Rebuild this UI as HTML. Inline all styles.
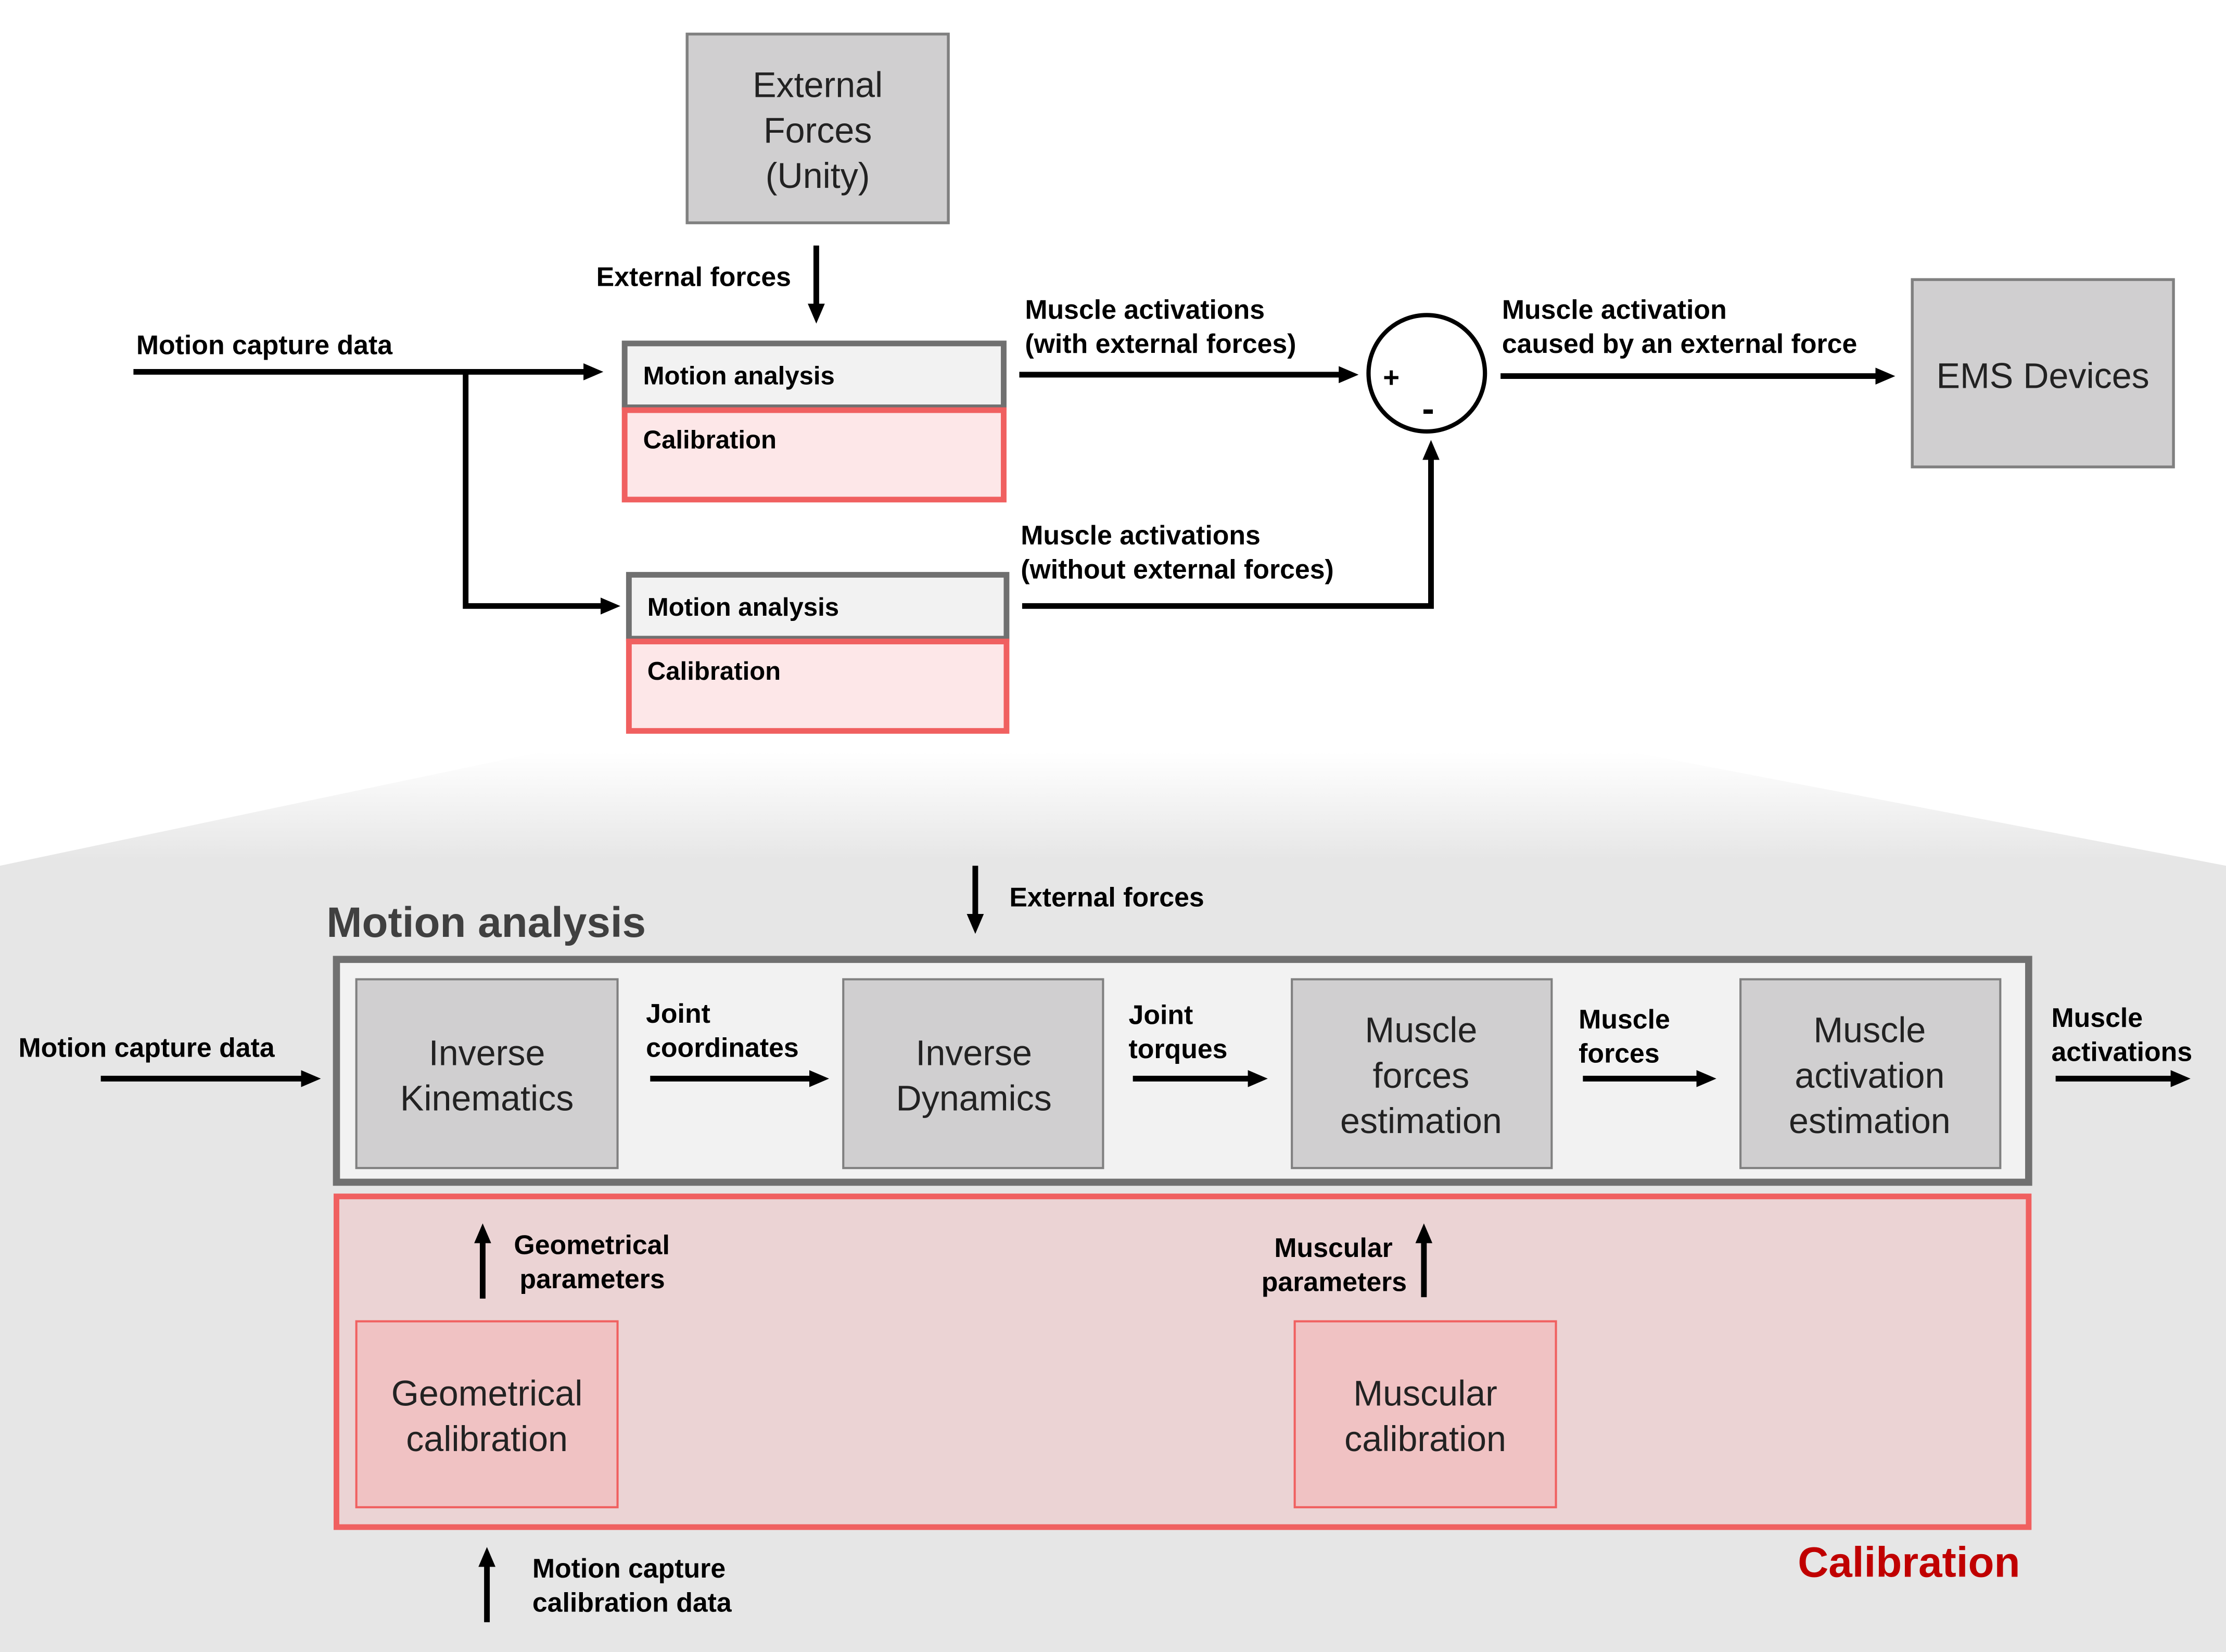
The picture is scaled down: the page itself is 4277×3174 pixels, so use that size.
<!DOCTYPE html>
<html><head><meta charset="utf-8"><style>
html,body{margin:0;padding:0;background:#fff}
svg{display:block}
text{font-family:"Liberation Sans",sans-serif;dominant-baseline:central}
.b{font-weight:bold;font-size:19px;fill:#000}
.n{font-size:25px;fill:#222;text-anchor:middle}
</style></head><body>
<svg width="4277" height="3174" viewBox="0 0 1568 1164" preserveAspectRatio="none" xmlns="http://www.w3.org/2000/svg">
<defs>
<marker id="a" markerWidth="14" markerHeight="12" refX="8" refY="6" orient="auto" markerUnits="userSpaceOnUse"><path d="M0,0 L14,6 L0,12 z" fill="#000"/></marker>
<linearGradient id="g" x1="0" y1="0" x2="0" y2="1"><stop offset="0" stop-color="#e6e6e6" stop-opacity="0"/><stop offset="0.12" stop-color="#e6e6e6"/><stop offset="1" stop-color="#e6e6e6"/></linearGradient>
</defs>
<polygon points="0,610 380,530 1150,530 1568,610 1568,1164 0,1164" fill="url(#g)"/>
<rect x="484" y="24" width="184" height="133" fill="#d0cfd0" stroke="#808080" stroke-width="2"/>
<text class="n" x="576" y="60">External</text><text class="n" x="576" y="92">Forces</text><text class="n" x="576" y="124">(Unity)</text>
<rect x="440" y="242" width="267" height="45" fill="#f2f2f2" stroke="#707070" stroke-width="4"/>
<rect x="440" y="289" width="267" height="63" fill="#fde7e8" stroke="#f06060" stroke-width="4"/>
<rect x="443" y="405" width="266" height="45" fill="#f2f2f2" stroke="#707070" stroke-width="4"/>
<rect x="443" y="452" width="266" height="63" fill="#fde7e8" stroke="#f06060" stroke-width="4"/>
<text class="b" x="453" y="265" style="font-size:18px">Motion analysis</text>
<text class="b" x="453" y="310" style="font-size:18px">Calibration</text>
<text class="b" x="456" y="428" style="font-size:18px">Motion analysis</text>
<text class="b" x="456" y="473" style="font-size:18px">Calibration</text>
<circle cx="1005" cy="263" r="41" fill="#fff" stroke="#000" stroke-width="3"/>
<text x="980" y="266" style="font-size:20px;font-weight:bold;text-anchor:middle">+</text>
<text x="1006" y="288" style="font-size:26px;font-weight:bold;text-anchor:middle">-</text>
<rect x="1347" y="197" width="184" height="132" fill="#d0cfd0" stroke="#808080" stroke-width="2"/>
<text class="n" x="1439" y="265">EMS Devices</text>
<text class="b" x="420" y="195">External forces</text>
<text class="b" x="96" y="243">Motion capture data</text>
<text class="b" x="722" y="218">Muscle activations</text><text class="b" x="722" y="242">(with external forces)</text>
<text class="b" x="719" y="377">Muscle activations</text><text class="b" x="719" y="401">(without external forces)</text>
<text class="b" x="1058" y="218">Muscle activation</text><text class="b" x="1058" y="242">caused by an external force</text>
<text x="230" y="650" style="font-size:30px;font-weight:bold;fill:#404040">Motion analysis</text>
<text class="b" x="711" y="632">External forces</text>
<rect x="237" y="676" width="1192" height="157" fill="#f2f2f2" stroke="#707070" stroke-width="5"/>
<rect x="251" y="690" width="184" height="133" fill="#d0cfd0" stroke="#808080" stroke-width="1.5"/>
<rect x="594" y="690" width="183" height="133" fill="#d0cfd0" stroke="#808080" stroke-width="1.5"/>
<rect x="910" y="690" width="183" height="133" fill="#d0cfd0" stroke="#808080" stroke-width="1.5"/>
<rect x="1226" y="690" width="183" height="133" fill="#d0cfd0" stroke="#808080" stroke-width="1.5"/>
<text class="n" x="343" y="742">Inverse</text><text class="n" x="343" y="774">Kinematics</text>
<text class="n" x="686" y="742">Inverse</text><text class="n" x="686" y="774">Dynamics</text>
<text class="n" x="1001" y="726">Muscle</text><text class="n" x="1001" y="758">forces</text><text class="n" x="1001" y="790">estimation</text>
<text class="n" x="1317" y="726">Muscle</text><text class="n" x="1317" y="758">activation</text><text class="n" x="1317" y="790">estimation</text>
<text class="b" x="13" y="738">Motion capture data</text>
<text class="b" x="455" y="714">Joint</text><text class="b" x="455" y="738">coordinates</text>
<text class="b" x="795" y="715">Joint</text><text class="b" x="795" y="739">torques</text>
<text class="b" x="1112" y="718">Muscle</text><text class="b" x="1112" y="742">forces</text>
<text class="b" x="1445" y="717">Muscle</text><text class="b" x="1445" y="741">activations</text>
<rect x="237" y="843" width="1192" height="233" fill="#ebd3d4" stroke="#f06060" stroke-width="4"/>
<rect x="251" y="931" width="184" height="131" fill="#f0c2c3" stroke="#f06060" stroke-width="1.5"/>
<rect x="912" y="931" width="184" height="131" fill="#f0c2c3" stroke="#f06060" stroke-width="1.5"/>
<text class="n" x="343" y="982">Geometrical</text><text class="n" x="343" y="1014">calibration</text>
<text class="n" x="1004" y="982">Muscular</text><text class="n" x="1004" y="1014">calibration</text>
<text class="b" x="362" y="877">Geometrical</text><text class="b" x="366" y="901">parameters</text>
<text class="b" x="981" y="879" style="text-anchor:end">Muscular</text><text class="b" x="991" y="903" style="text-anchor:end">parameters</text>
<text class="b" x="375" y="1105">Motion capture</text><text class="b" x="375" y="1129">calibration data</text>
<text x="1423" y="1101" style="font-size:30px;font-weight:bold;fill:#c00000;text-anchor:end">Calibration</text>
<g stroke="#000" stroke-width="4" fill="none">
<line x1="575" y1="173" x2="575" y2="222" marker-end="url(#a)"/>
<line x1="94" y1="262" x2="419" y2="262" marker-end="url(#a)"/>
<polyline points="328,262 328,427 431,427" marker-end="url(#a)"/>
<line x1="718" y1="264" x2="951" y2="264" marker-end="url(#a)"/>
<polyline points="720,427 1008,427 1008,316" marker-end="url(#a)"/>
<line x1="1057" y1="265" x2="1329" y2="265" marker-end="url(#a)"/>
<line x1="687" y1="610" x2="687" y2="652" marker-end="url(#a)"/>
<line x1="71" y1="760" x2="220" y2="760" marker-end="url(#a)"/>
<line x1="458" y1="760" x2="578" y2="760" marker-end="url(#a)"/>
<line x1="798" y1="760" x2="887" y2="760" marker-end="url(#a)"/>
<line x1="1115" y1="760" x2="1203" y2="760" marker-end="url(#a)"/>
<line x1="1448" y1="760" x2="1537" y2="760" marker-end="url(#a)"/>
<line x1="340" y1="915" x2="340" y2="868" marker-end="url(#a)"/>
<line x1="1003" y1="914" x2="1003" y2="868" marker-end="url(#a)"/>
<line x1="343" y1="1143" x2="343" y2="1096" marker-end="url(#a)"/>
</g>
</svg>
</body></html>
